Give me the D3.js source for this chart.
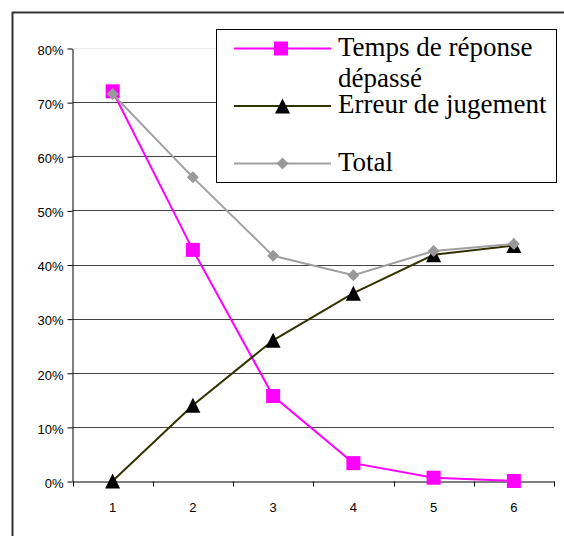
<!DOCTYPE html>
<html>
<head>
<meta charset="utf-8">
<script src="https://cdn.jsdelivr.net/npm/d3@7"></script>
<style>
  body { margin: 0; background: #fff; }
  svg { display: block; }
</style>
</head>
<body>
<div id="chart-area"></div>
<script>
// SVG size
let width = 564,
	height = 536;

// data
let categories = ["1", "2", "3", "4", "5", "6"];
let tempsDepasse = [0.72, 0.427, 0.157, 0.033, 0.006, 0];
let erreurJugement = [0, 0.14, 0.26, 0.347, 0.418, 0.435];
let total = [0.715, 0.561, 0.416, 0.38, 0.425, 0.438];
let yTicks = [0, 0.1, 0.2, 0.3, 0.4, 0.5, 0.6, 0.7, 0.8];
let legendLabels = [["Temps de réponse", "dépassé"], ["Erreur de jugement"], ["Total"]];

let svg = d3.select("#chart-area")
			.append("svg")
			.attr("width", width)
			.attr("height", height);

// outer frame (runs off the right and bottom edges)
svg.append("rect")
	.attr("x", 12.5)
	.attr("y", 12.5)
	.attr("width", 600)
	.attr("height", 600)
	.attr("fill", "#fff")
	.attr("stroke", "#333")
	.attr("stroke-width", 2);

let xScale = d3.scaleBand()
			.domain(categories)
			.range([72.5, 554]);

let yScale = d3.scaleLinear()
			.domain([0, 0.8])
			.range([481, 48]);

// gridlines
svg.append("g")
	.selectAll("line")
	.data(yTicks.filter(d => d > 0))
	.enter()
	.append("line")
	.attr("x1", 72.5)
	.attr("x2", 554)
	.attr("y1", d => Math.round(yScale(d)) + 0.5)
	.attr("y2", d => Math.round(yScale(d)) + 0.5)
	.attr("stroke", d => d === 0.8 ? "#eaeaea" : "#444")
	.attr("stroke-width", 1);

// y axis
let yAxis = d3.axisLeft(yScale)
			.tickValues(yTicks)
			.tickFormat(d3.format(".0%"))
			.tickSize(5)
			.tickSizeOuter(0)
			.tickPadding(4);

let y = svg.append("g")
			.attr("transform", "translate(72.5,0.5)")
			.call(yAxis);
y.select(".domain").attr("stroke", "#000");
y.selectAll(".tick line").attr("stroke", "#000");
y.selectAll("text")
	.attr("dy", "0.45em")
	.style("font-family", "'Liberation Sans', Arial, sans-serif")
	.style("font-size", "13px")
	.attr("fill", "#000");

// x axis: labels in band centres, ticks on band edges
let xAxis = d3.axisBottom(xScale)
			.tickSize(0)
			.tickSizeOuter(0)
			.tickPadding(21);

let x = svg.append("g")
			.attr("transform", "translate(0,481.5)")
			.call(xAxis);
x.select(".domain").attr("stroke", "#000");
x.selectAll("text")
	.style("font-family", "'Liberation Sans', Arial, sans-serif")
	.style("font-size", "13px")
	.attr("fill", "#000");

let edges = categories.map(c => xScale(c)).concat([xScale.range()[1]]);
x.selectAll(".edge")
	.data(edges)
	.enter()
	.append("line")
	.attr("class", "edge")
	.attr("x1", d => Math.round(d) + 0.5)
	.attr("x2", d => Math.round(d) + 0.5)
	.attr("y1", 0)
	.attr("y2", 5)
	.attr("stroke", "#000");

let cx = (d, i) => xScale(categories[i]) + xScale.bandwidth() / 2;

let line = d3.line()
			.x((d, i) => cx(d, i))
			.y(d => yScale(d));

let trianglePath = (px, py, s) => "M" + px + "," + (py - s) + "L" + (px + s) + "," + (py + s) + "L" + (px - s) + "," + (py + s) + "Z";
let diamondPath = (px, py, s) => "M" + px + "," + (py - s) + "L" + (px + s) + "," + py + "L" + px + "," + (py + s) + "L" + (px - s) + "," + py + "Z";

// series 1 : pink squares
svg.append("path")
	.datum(tempsDepasse)
	.attr("d", line)
	.attr("fill", "none")
	.attr("stroke", "#ff00ff")
	.attr("stroke-width", 2);
svg.selectAll(".sq")
	.data(tempsDepasse)
	.enter()
	.append("rect")
	.attr("class", "sq")
	.attr("x", (d, i) => cx(d, i) - 7)
	.attr("y", d => yScale(d) - 7)
	.attr("width", 14)
	.attr("height", 14)
	.attr("fill", "#ff00ff");

// series 2 : black triangles
svg.append("path")
	.datum(erreurJugement)
	.attr("d", line)
	.attr("fill", "none")
	.attr("stroke", "#333300")
	.attr("stroke-width", 2);
svg.selectAll(".tri")
	.data(erreurJugement)
	.enter()
	.append("path")
	.attr("class", "tri")
	.attr("d", (d, i) => trianglePath(cx(d, i), yScale(d), 7.5))
	.attr("fill", "#000");

// series 3 : gray diamonds
svg.append("path")
	.datum(total)
	.attr("d", line)
	.attr("fill", "none")
	.attr("stroke", "#a0a0a0")
	.attr("stroke-width", 2);
svg.selectAll(".dia")
	.data(total)
	.enter()
	.append("path")
	.attr("class", "dia")
	.attr("d", (d, i) => diamondPath(cx(d, i), yScale(d), 6))
	.attr("fill", "#999");

// legend
let legend = svg.append("g");
legend.append("rect")
	.attr("x", 216.5)
	.attr("y", 29.5)
	.attr("width", 340)
	.attr("height", 153)
	.attr("fill", "#fff")
	.attr("stroke", "#000")
	.attr("stroke-width", 1);

let rowY = [48.5, 106, 163.5];
let colors = ["#ff00ff", "#333300", "#a0a0a0"];

legendLabels.forEach((lines, i) => {
	let ly = rowY[i];
	legend.append("line")
		.attr("x1", 234)
		.attr("x2", 331)
		.attr("y1", ly)
		.attr("y2", ly)
		.attr("stroke", colors[i])
		.attr("stroke-width", 2);
	if (i === 0) {
		legend.append("rect")
			.attr("x", 281 - 7).attr("y", ly - 7)
			.attr("width", 14).attr("height", 14)
			.attr("fill", "#ff00ff");
	} else if (i === 1) {
		legend.append("path")
			.attr("d", trianglePath(282.5, ly, 7.5))
			.attr("fill", "#000");
	} else {
		legend.append("path")
			.attr("d", diamondPath(282.5, ly, 6))
			.attr("fill", "#999");
	}
	let t = legend.append("text")
		.attr("x", 338)
		.attr("y", ly + 7)
		.style("font-family", "'Liberation Serif', 'Times New Roman', serif")
		.style("font-size", "27px")
		.attr("fill", "#000");
	lines.forEach((s, j) => {
		t.append("tspan")
			.attr("x", 338)
			.attr("dy", j === 0 ? 0 : 31)
			.text(s);
	});
});
</script>
</body>
</html>
